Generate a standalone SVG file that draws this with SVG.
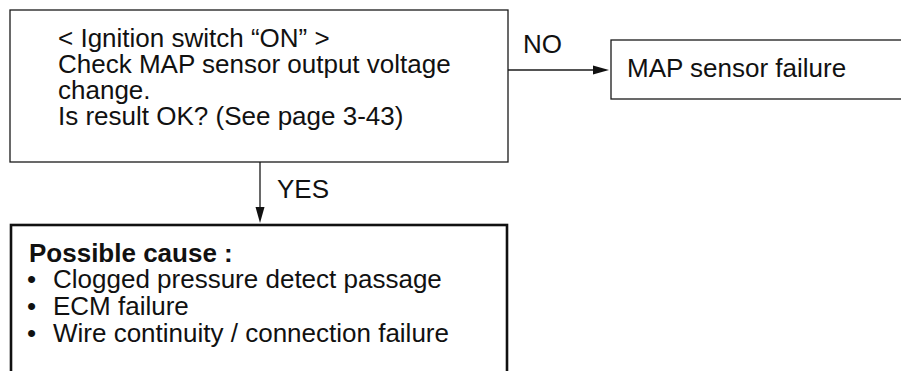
<svg xmlns="http://www.w3.org/2000/svg" width="901" height="371" viewBox="0 0 901 371">
<style>
  .box{fill:#fff;stroke:#1a1a1a;stroke-width:1.3}
  .boxb{fill:#fff;stroke:#111;stroke-width:2.6}
  .t{font-family:"Liberation Sans",Arial,Helvetica,sans-serif;font-size:26px;fill:#111}
  .b{font-weight:bold}
  .ln{stroke:#1a1a1a;stroke-width:1.3;fill:none}
  .ah{fill:#111}
</style>
<rect width="901" height="371" fill="#fff"/>
<g id="connectors">
  <line class="ln" x1="260" y1="162" x2="260" y2="210"/>
  <polygon class="ah" points="255.5,207 264.5,207 260,223"/>
  <text class="t" x="277" y="198">YES</text>
  <line class="ln" x1="508" y1="70" x2="596" y2="70"/>
  <polygon class="ah" points="593,65.5 609,70 593,74.5"/>
  <text class="t" x="523" y="53">NO</text>
</g>
<g id="check">
  <rect class="box" x="10" y="10" width="498" height="152"/>
  <text class="t" x="58" y="47">&lt; Ignition switch “ON” &gt;</text>
  <text class="t" x="58" y="73">Check MAP sensor output voltage</text>
  <text class="t" x="58" y="99">change.</text>
  <text class="t" x="58" y="125">Is result OK? (See page 3-43)</text>
</g>
<g id="map-failure">
  <rect class="box" x="611" y="40" width="300" height="59"/>
  <text class="t" x="627" y="77">MAP sensor failure</text>
</g>
<g id="possible-cause">
  <rect class="boxb" x="11" y="225" width="496" height="160"/>
  <text class="t b" x="29" y="262">Possible cause :</text>
  <text class="t" x="27" y="288">•</text>
  <text class="t" x="53" y="288">Clogged pressure detect passage</text>
  <text class="t" x="27" y="315">•</text>
  <text class="t" x="53" y="315">ECM failure</text>
  <text class="t" x="27" y="342">•</text>
  <text class="t" x="53" y="342">Wire continuity / connection failure</text>
</g>
</svg>
